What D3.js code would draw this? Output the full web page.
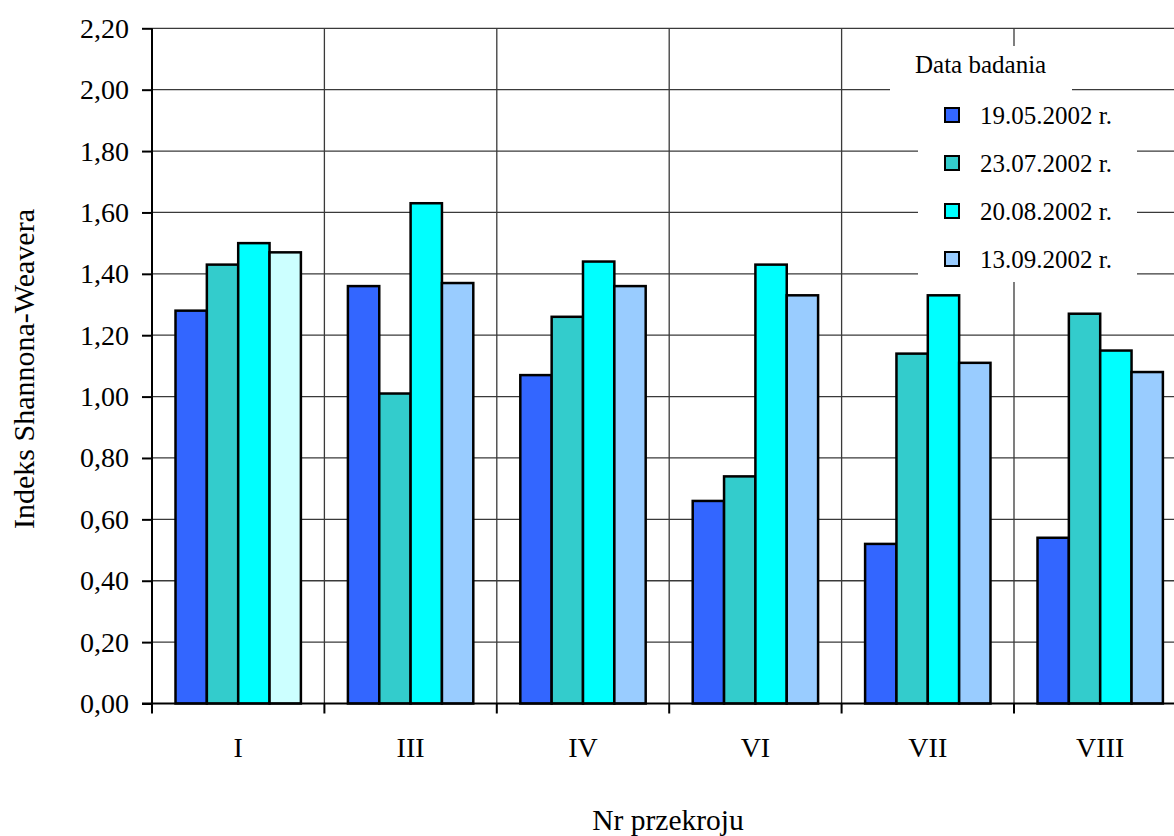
<!DOCTYPE html>
<html>
<head>
<meta charset="utf-8">
<script src="https://cdn.jsdelivr.net/npm/d3@7"></script>
<style>
  html, body { margin: 0; padding: 0; background: #fff; }
  svg { display: block; font-family: "Liberation Serif", "Times New Roman", serif; }
</style>
</head>
<body>
<svg id="chart" width="1174" height="836"></svg>
<script>
// Shannon-Weaver diversity index per cross-section and sampling date
const categories = ["I", "III", "IV", "VI", "VII", "VIII"];
const seriesNames = ["19.05.2002 r.", "23.07.2002 r.", "20.08.2002 r.", "13.09.2002 r."];
const may19 = [1.28, 1.36, 1.07, 0.66, 0.52, 0.54];
const jul23 = [1.43, 1.01, 1.26, 0.74, 1.14, 1.27];
const aug20 = [1.50, 1.63, 1.44, 1.43, 1.33, 1.15];
const sep13 = [1.47, 1.37, 1.36, 1.33, 1.11, 1.08];
const yTicks = [0, 0.2, 0.4, 0.6, 0.8, 1.0, 1.2, 1.4, 1.6, 1.8, 2.0, 2.2];

const seriesValues = [may19, jul23, aug20, sep13];
const seriesColors = ["#3366FF", "#33CCCC", "#00FFFF", "#99CCFF"];
const firstSectionLastColor = "#CCFFFF";

const svg = d3.select("#chart");

// plot area (extends past the right edge of the page)
const plotLeft = 152, plotTop = 28.3, plotBottom = 703.5;
const step = 172.4;
const plotRight = plotLeft + step * categories.length;

const x = d3.scaleBand().domain(categories).range([plotLeft, plotRight]).paddingInner(0).paddingOuter(0);
const xs = d3.scaleBand().domain(d3.range(seriesNames.length))
  .range([0, x.bandwidth()]).paddingInner(0).paddingOuter(0.75);
const y = d3.scaleLinear().domain([0, 2.2]).range([plotBottom, plotTop]);

const fmt = v => d3.format(".2f")(v).replace(".", ",");

// horizontal gridlines
svg.append("g").selectAll("line").data(yTicks.slice(1)).join("line")
  .attr("x1", plotLeft).attr("x2", plotRight)
  .attr("y1", d => y(d)).attr("y2", d => y(d))
  .attr("stroke", "#3a3a3a").attr("stroke-width", 1.3);

// vertical gridlines at section boundaries
svg.append("g").selectAll("line").data(categories.slice(1)).join("line")
  .attr("x1", d => x(d)).attr("x2", d => x(d))
  .attr("y1", plotTop).attr("y2", plotBottom)
  .attr("stroke", "#3a3a3a").attr("stroke-width", 1.3);

// legend backgrounds hide the gridlines beneath them
const legendTitleBox = { x: 890, y: 46, w: 182, h: 46 };
const legendBox = { x: 918, y: 92, w: 219, h: 190 };
[legendTitleBox, legendBox].forEach(b => {
  svg.append("rect").attr("x", b.x).attr("y", b.y).attr("width", b.w).attr("height", b.h)
    .attr("fill", "#fff");
});

// bars
const bars = [];
categories.forEach((c, ci) => {
  seriesValues.forEach((vals, si) => {
    bars.push({ cat: c, ci, si, v: vals[ci] });
  });
});
svg.append("g").selectAll("rect").data(bars).join("rect")
  .attr("x", d => x(d.cat) + xs(d.si))
  .attr("width", xs.bandwidth())
  .attr("y", d => y(d.v))
  .attr("height", d => y(0) - y(d.v))
  .attr("fill", d => (d.ci === 0 && d.si === 3) ? firstSectionLastColor : seriesColors[d.si])
  .attr("stroke", "#000").attr("stroke-width", 2.5);

// y axis
const yAxis = d3.axisLeft(y).tickValues(yTicks).tickFormat(fmt).tickSize(10).tickPadding(13);
const gy = svg.append("g").attr("transform", `translate(${plotLeft},0)`).call(yAxis);
gy.select(".domain").attr("stroke", "#000").attr("stroke-width", 2).attr("d", `M0,${plotTop}V${plotBottom}`);
gy.selectAll(".tick line").attr("stroke", "#000").attr("stroke-width", 2);
gy.selectAll(".tick text").attr("fill", "#000")
  .style("font-family", "Liberation Serif, Times New Roman, serif").style("font-size", "28px");

// x axis: baseline, boundary ticks, centred section labels
const boundaries = categories.map(c => x(c)).concat([plotRight]);
const gx = svg.append("g");
gx.append("line").attr("x1", plotLeft - 10).attr("x2", plotRight).attr("y1", plotBottom).attr("y2", plotBottom)
  .attr("stroke", "#000").attr("stroke-width", 2);
gx.selectAll("line.tick").data(boundaries).join("line").attr("class", "tick")
  .attr("x1", d => d).attr("x2", d => d).attr("y1", plotBottom).attr("y2", plotBottom + 10)
  .attr("stroke", "#000").attr("stroke-width", 2);
gx.selectAll("text").data(categories).join("text")
  .attr("x", d => x(d) + x.bandwidth() / 2).attr("y", 757)
  .attr("text-anchor", "middle").attr("font-size", 28).attr("fill", "#000")
  .text(d => d);

// axis titles
svg.append("text").attr("x", 668).attr("y", 830).attr("text-anchor", "middle")
  .attr("font-size", 29.5).text("Nr przekroju");
svg.append("text").attr("transform", "translate(34,369) rotate(-90)")
  .attr("text-anchor", "middle").attr("font-size", 30).text("Indeks Shannona-Weavera");

// legend
svg.append("text").attr("x", 915).attr("y", 73).attr("font-size", 25).text("Data badania");
const lg = svg.append("g").selectAll("g").data(seriesNames).join("g")
  .attr("transform", (d, i) => `translate(945,${115 + i * 48})`);
lg.append("rect").attr("x", 0).attr("y", -7).attr("width", 14).attr("height", 14)
  .attr("fill", (d, i) => seriesColors[i]).attr("stroke", "#000").attr("stroke-width", 2);
lg.append("text").attr("x", 35).attr("y", 0).attr("dy", "0.35em").attr("font-size", 25).text(d => d);
</script>
</body>
</html>
